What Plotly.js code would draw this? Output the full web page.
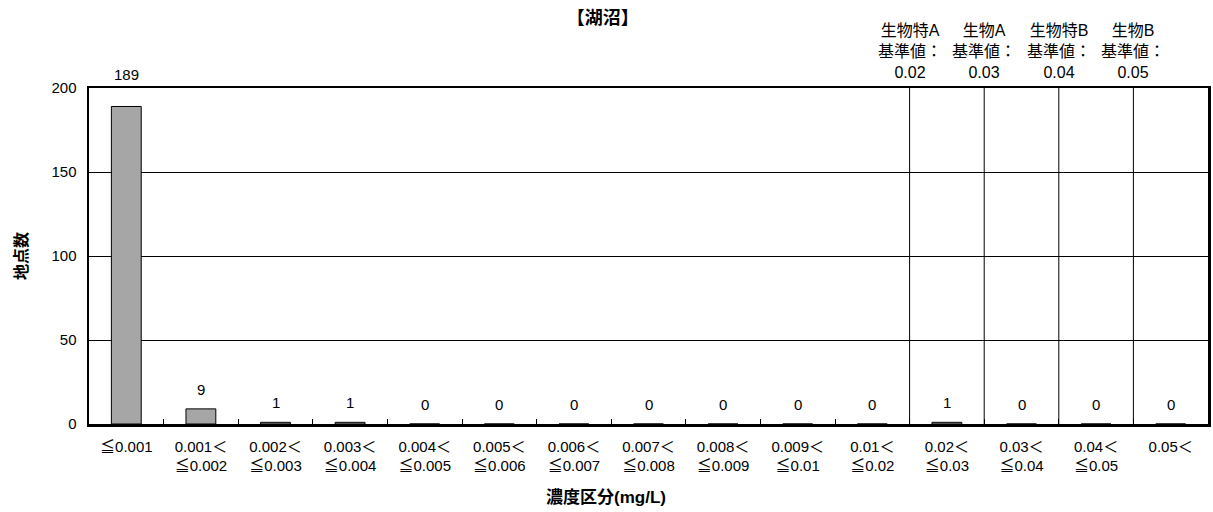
<!DOCTYPE html>
<html><head><meta charset="utf-8">
<script src="https://cdn.plot.ly/plotly-3.0.1.min.js"></script>
<style>html,body{margin:0;padding:0;background:#fff;}#chart{width:1213px;height:512px;}</style>
</head><body><div id="chart"></div>
<script>
const categories = ["≦0.001","0.001＜<br>≦0.002","0.002＜<br>≦0.003","0.003＜<br>≦0.004","0.004＜<br>≦0.005","0.005＜<br>≦0.006","0.006＜<br>≦0.007","0.007＜<br>≦0.008","0.008＜<br>≦0.009","0.009＜<br>≦0.01","0.01＜<br>≦0.02","0.02＜<br>≦0.03","0.03＜<br>≦0.04","0.04＜<br>≦0.05","0.05＜"];
const counts = [189, 9, 1, 1, 0, 0, 0, 0, 0, 0, 0, 1, 0, 0, 0];
const thresholds = ["0.02","0.03","0.04","0.05"];
const thresholdNames = ["生物特A","生物A","生物特B","生物B"];
const yTicks = [0, 50, 100, 150, 200];
const yMax = 200;

const FONT = '"Liberation Sans", Arial, "Noto Sans CJK JP", sans-serif';
const shapes = [], annotations = [];
thresholds.forEach((t, i) => {
  const idx = categories.findIndex(c => c.startsWith(t + "＜"));
  const xb = idx - 0.5;
  shapes.push({type:'line', xref:'x', yref:'paper', x0:xb, x1:xb, y0:0, y1:1, line:{color:'#000', width:1}});
  annotations.push({xref:'x', yref:'paper', x:xb, y:1, yshift:5, yanchor:'bottom', showarrow:false,
    text: thresholdNames[i] + "<br>基準値：<br>" + t, align:'center',
    font:{family:FONT, size:16, color:'#000'}});
});
counts.forEach((v, i) => {
  annotations.push({xref:'x', yref:'y', x:categories[i], y:v, yanchor:'bottom', showarrow:false,
    yshift: v / yMax > 0.9 ? 21 : 9, text:String(v),
    font:{family:FONT, size:15, color:'#000'}});
});
annotations.push({xref:'paper', yref:'paper', x:0.462, y:0, yshift:-73, xanchor:'center', yanchor:'middle',
  showarrow:false, text:'<b>濃度区分(mg/L)</b>', font:{family:FONT, size:17, color:'#000'}});

const trace = {
  type:'bar', x:categories, y:counts, width:0.4,
  marker:{color:'#a6a6a6', line:{color:'#000', width:1}},
  hoverinfo:'skip'
};

const layout = {
  width:1213, height:512,
  margin:{l:89, r:5, t:88, b:88},
  paper_bgcolor:'#fff', plot_bgcolor:'#fff',
  showlegend:false,
  font:{family:FONT, color:'#000', size:15},
  title:{text:'<b>【湖沼】</b>', x:0.497, xanchor:'center', y:0.965, yanchor:'middle',
         font:{family:FONT, size:18, color:'#000'}},
  xaxis:{type:'category', showline:true, linecolor:'#000', linewidth:2.5, mirror:true,
         ticks:'inside', tickson:'boundaries', ticklen:5, tickcolor:'#000',
         ticklabelstandoff:7,
         tickfont:{family:FONT, size:15, color:'#000'}, showgrid:false},
  yaxis:{range:[0,yMax], tickvals:yTicks, ticktext:yTicks.map(String),
         showline:true, linecolor:'#000', linewidth:2.5, mirror:true,
         ticks:'outside', ticklen:7, tickcolor:'rgba(0,0,0,0)',
         showgrid:true, gridcolor:'#000', gridwidth:1, zeroline:false,
         tickfont:{family:FONT, size:15, color:'#000'},
         title:{text:'<b>地点数</b>', standoff:20, font:{family:FONT, size:16, color:'#000'}}},
  shapes:shapes, annotations:annotations
};
Plotly.newPlot('chart', [trace], layout, {staticPlot:true});
</script></body></html>
